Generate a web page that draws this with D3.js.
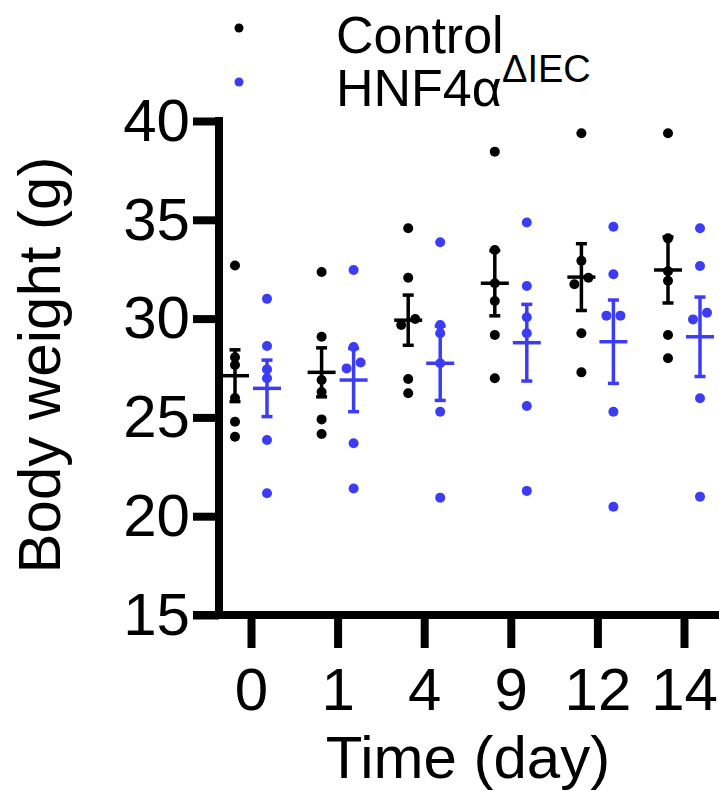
<!DOCTYPE html>
<html>
<head>
<meta charset="utf-8">
<script src="https://cdn.jsdelivr.net/npm/d3@7"></script>
<style>
  body { margin: 0; background: #fff; }
  text { font-family: "Liberation Sans", Arial, sans-serif; }
</style>
</head>
<body>
<div id="chart"></div>
<script>
const W = 719, H = 791
const blue = "#3c3cf4"

// days on the x axis
const days = ["0", "1", "4", "9", "12", "14"]
const yTicks = [15, 20, 25, 30, 35, 40]

// individual mice, one array per day
const control = [
  [32.69, 28.04, 27.65, 25.98, 24.78, 24.02],
  [32.36, 29.08, 26.89, 26.28, 24.90, 24.16],
  [34.57, 32.07, 29.98, 29.68, 26.94, 26.22],
  [38.45, 33.47, 31.79, 30.89, 29.17, 26.98],
  [39.38, 32.93, 32.07, 31.74, 29.26, 27.28],
  [39.38, 34.06, 32.40, 31.92, 29.17, 27.99]
]
const hnf4a = [
  [31.00, 28.61, 27.43, 26.98, 23.86, 21.16],
  [32.46, 28.56, 27.78, 27.48, 23.69, 21.40],
  [33.86, 29.68, 29.26, 27.74, 25.29, 20.94],
  [34.86, 31.65, 30.07, 29.26, 25.58, 21.28],
  [34.65, 32.24, 30.15, 30.15, 25.29, 20.48],
  [34.57, 32.66, 30.30, 29.96, 25.97, 20.99]
]
// mean +/- SEM as drawn
const controlMean = [27.11, 27.28, 29.92, 31.79, 32.10, 32.46]
const controlSem  = [1.31, 1.24, 1.27, 1.65, 1.69, 1.67]
const hnf4aMean   = [26.47, 26.89, 27.74, 28.78, 28.83, 29.08]
const hnf4aSem    = [1.43, 1.60, 1.88, 1.94, 2.11, 2.01]

const svg = d3.select("#chart").append("svg")
  .attr("width", W)
  .attr("height", H)

const x = d3.scalePoint().domain(days).range([251, 684])
const y = d3.scaleLinear().domain([15, 40]).range([615, 121])

const groups = [
  {name: "Control", color: "#000", vals: control, mean: controlMean, sem: controlSem, dx: -16},
  {name: "HNF4a", color: blue, vals: hnf4a, mean: hnf4aMean, sem: hnf4aSem, dx: 16}
]

// dots: nudge pairs that would overlap side by side
groups.forEach(g => {
  const pts = []
  g.vals.forEach((vs, i) => {
    const sorted = vs.slice().sort((a, b) => a - b)
    const used = sorted.map(() => 0)
    sorted.forEach((v, j) => {
      if (used[j]) return
      const nxt = sorted[j + 1]
      if (nxt !== undefined && Math.abs(y(nxt) - y(v)) < 7.2) {
        pts.push({day: days[i], v: v, off: -7})
        pts.push({day: days[i], v: nxt, off: 7})
        used[j + 1] = 1
      } else {
        pts.push({day: days[i], v: v, off: 0})
      }
    })
  })
  svg.append("g").selectAll("circle")
    .data(pts)
    .enter()
    .append("circle")
    .attr("cx", d => x(d.day) + g.dx + d.off)
    .attr("cy", d => y(d.v))
    .attr("r", 5)
    .attr("fill", g.color)
})

// mean and SEM bars
groups.forEach(g => {
  const bars = svg.append("g")
    .attr("stroke", g.color)
    .attr("stroke-width", 3.5)
  days.forEach((d, i) => {
    const cx = x(d) + g.dx
    const top = y(g.mean[i] + g.sem[i]), bot = y(g.mean[i] - g.sem[i])
    bars.append("line").attr("x1", cx).attr("x2", cx).attr("y1", top).attr("y2", bot)
    bars.append("line").attr("x1", cx - 5.5).attr("x2", cx + 5.5).attr("y1", top).attr("y2", top)
    bars.append("line").attr("x1", cx - 5.5).attr("x2", cx + 5.5).attr("y1", bot).attr("y2", bot)
    bars.append("line").attr("x1", cx - 14).attr("x2", cx + 14)
      .attr("y1", y(g.mean[i])).attr("y2", y(g.mean[i]))
  })
})

// y axis
const yAxis = svg.append("g")
  .attr("transform", "translate(219,0)")
  .call(d3.axisLeft(y).tickValues(yTicks).tickSize(26).tickSizeOuter(0).tickPadding(3))
yAxis.select(".domain").remove()
yAxis.selectAll(".tick line").attr("stroke", "#000").attr("stroke-width", 8)
yAxis.selectAll(".tick text")
  .attr("font-size", 60)
  .attr("font-family", "Liberation Sans, Arial, sans-serif")
  .attr("fill", "#000")
svg.append("line")
  .attr("x1", 219).attr("x2", 219)
  .attr("y1", y(40) - 4).attr("y2", y(15) + 4)
  .attr("stroke", "#000").attr("stroke-width", 8)

// x axis
const xAxis = svg.append("g")
  .attr("transform", `translate(0,${y(15)})`)
  .call(d3.axisBottom(x).tickSize(33).tickSizeOuter(0).tickPadding(19))
xAxis.select(".domain").remove()
xAxis.selectAll(".tick line").attr("stroke", "#000").attr("stroke-width", 8)
xAxis.selectAll(".tick text")
  .attr("font-size", 60)
  .attr("font-family", "Liberation Sans, Arial, sans-serif")
  .attr("fill", "#000")
svg.append("line")
  .attr("x1", 193).attr("x2", W)
  .attr("y1", y(15)).attr("y2", y(15))
  .attr("stroke", "#000").attr("stroke-width", 8)

// axis titles
svg.append("text")
  .attr("text-anchor", "middle")
  .attr("transform", "translate(60,365) rotate(-90)")
  .attr("font-size", 60)
  .text("Body weight (g)")

svg.append("text")
  .attr("text-anchor", "middle")
  .attr("x", 468)
  .attr("y", 778)
  .attr("font-size", 60)
  .text("Time (day)")

// legend
svg.append("circle").attr("cx", 239).attr("cy", 28).attr("r", 4.5).attr("fill", "#000")
svg.append("circle").attr("cx", 239).attr("cy", 82).attr("r", 4.5).attr("fill", blue)

svg.append("text")
  .attr("x", 336).attr("y", 53)
  .attr("font-size", 52)
  .text("Control")

svg.append("text")
  .attr("x", 336).attr("y", 106)
  .attr("font-size", 52)
  .text("HNF4α")
svg.append("text")
  .attr("x", 502).attr("y", 82)
  .attr("font-size", 38)
  .text("ΔIEC")
</script>
</body>
</html>
